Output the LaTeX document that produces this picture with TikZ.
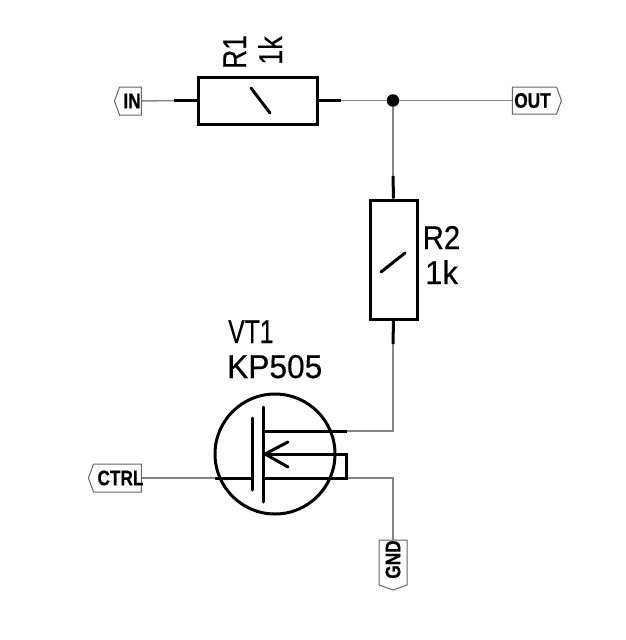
\documentclass[tikz,border=0pt]{standalone}
\usepackage{fontspec}
\usepackage{graphicx}
\setmainfont{Liberation Sans}
\newfontfamily\tagfont[FakeStretch=0.82,FakeBold=0.6]{Liberation Sans Bold}
\newfontfamily\labelfont[FakeBold=0.35]{Liberation Sans}
\usetikzlibrary{shapes.symbols}
\tikzset{
  wire/.style={draw=black!48,line width=1.5pt},
  lead/.style={draw=black,line width=3pt},
  heavy/.style={draw=black,line width=3pt,line cap=round},
  res/.style={draw=black,line width=3pt,fill=none,inner sep=0pt,rectangle},
  tagbox/.style={signal,signal from=nowhere,signal pointer angle=140,draw=black!60,line width=1pt,fill=white,inner sep=0pt,font=\tagfont\fontsize{21}{21}\selectfont},
  lbl/.style={inner sep=0pt,font=\labelfont\fontsize{33}{33}\selectfont,anchor=base west},
  junction/.style={circle,fill=black,inner sep=0pt,minimum size=12.5pt}
}
\begin{document}
\begin{tikzpicture}[x=1pt,y=-1pt]
\useasboundingbox (0,0) rectangle (626,640);
% nodes
\node[res,minimum width=119pt,minimum height=47pt] (r1) at (257.5,100.5) {};
\node[res,minimum width=47pt,minimum height=119pt] (r2) at (393.5,259.5) {};
\node[junction] (j) at (393,100.5) {};
\node[circle,draw=black,line width=3pt,inner sep=0pt,minimum size=120pt] (vt) at (275,454) {};
\node[tagbox,signal to=west,minimum width=27pt,minimum height=28pt] (in) at (130.5,101) {\makebox[0pt]{\hspace*{3pt}IN}};
\node[tagbox,signal to=east,minimum width=49pt,minimum height=27pt] (out) at (534.5,100.5) {\makebox[0pt]{OUT\hspace*{4pt}}};
\node[tagbox,signal to=west,minimum width=53pt,minimum height=28pt] (ctrl) at (117.5,478) {\makebox[0pt]{\hspace*{6pt}CTRL}};
\node[tagbox,signal to=west,rotate=90,minimum width=50pt,minimum height=28pt] (gnd) at (393,562.5) {\makebox[0pt]{\hspace*{6pt}GND}};
% coordinates
\coordinate (r1a) at (174,100.5);
\coordinate (r1b) at (341,100.5);
\coordinate (r2a) at (393,176);
\coordinate (r2b) at (393,344);
\coordinate (d) at (263,431);
\coordinate (dend) at (347,431);
\coordinate (dj) at (393,431);
\coordinate (s) at (263,478);
\coordinate (send) at (346,478);
\coordinate (sj) at (393,478);
\coordinate (a) at (265,454);
\coordinate (b) at (346,454);
\coordinate (g) at (252,478);
\coordinate (gs) at (215,478);
% thin wires
\draw[wire] (in.east) -- (r1a);
\draw[wire] (r1b) -- (j) -- (out.west);
\draw[wire] (j) -- (r2a);
\draw[wire] (r2b) -- (dj) -- (dend);
\draw[wire] (send) -- (sj) -- (gnd.east);
\draw[wire] (ctrl.east) -- (gs);
% thick leads
\draw[lead] (r1a) -- (r1.west);
\draw[lead] (r1.east) -- (r1b);
\draw[lead] (r2a) -- (r2.north);
\draw[lead] (r2.south) -- (r2b);
\draw[heavy] (251,88) -- (270,113);
\draw[heavy] (381,272) -- (405,253);
% transistor
\draw[lead] (gs) -- (g);
\draw[heavy] (252,418) -- (252,490);
\draw[heavy] (263,407) -- (263,502);
\draw[lead] (d) -- (dend);
\draw[lead,line join=miter] (a) -- (b) -- (send) -- (s);
\draw[heavy,line join=miter] (288,442) -- (a) -- (288,467);
% labels
\node[lbl,rotate=90] (r1n) at (246,69) {\scalebox{.8}[1]{R1}};
\node[lbl,rotate=90] (r1v) at (282,65) {\scalebox{.82}[1]{1k}};
\node[lbl] (r2n) at (422.5,249) {\scalebox{.89}[1]{R2}};
\node[lbl] (r2v) at (425,284) {\scalebox{.94}[1]{1k}};
\node[lbl] (vtn) at (228,343) {\scalebox{.75}[1]{VT1}};
\node[lbl] (vtv) at (227,378) {\scalebox{.96}[1]{KP505}};
\end{tikzpicture}
\end{document}
